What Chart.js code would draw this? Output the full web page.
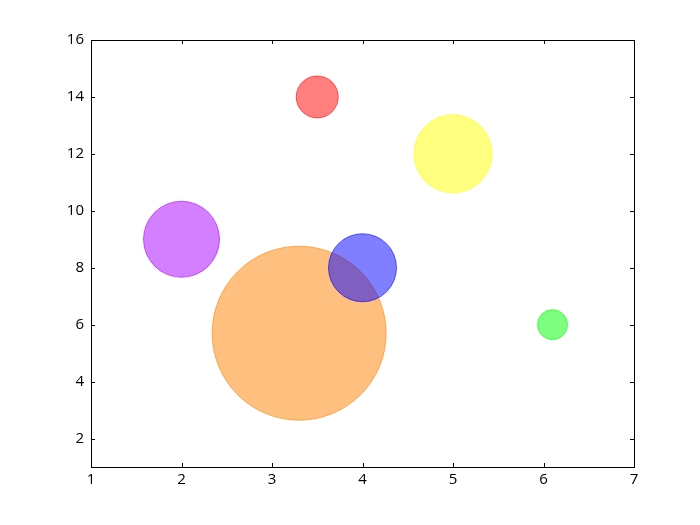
<!DOCTYPE html>
<html>
<head>
<meta charset="utf-8">
<script src="https://cdn.jsdelivr.net/npm/chart.js@4/dist/chart.umd.min.js"></script>
<style>
  html, body { margin: 0; padding: 0; background: #fff; }
  #wrap { width: 700px; height: 525px; }
</style>
</head>
<body>
<div id="wrap"><canvas id="bubbles" width="700" height="525"></canvas></div>
<script>
// bubble data
const xs = [3.5, 5, 2, 3.3, 4, 6.1];
const ys = [14, 12, 9, 5.7, 8, 6];
const radii = [21, 39, 38, 87, 34, 15]; // px
const fills = ['#ff0000', '#ffff00', '#aa00ff', '#ff8000', '#0000ff', '#00ff00'];

const xTicks = [1, 2, 3, 4, 5, 6, 7];
const yTicks = [2, 4, 6, 8, 10, 12, 14, 16];

function alpha(hex, a) {
  const n = parseInt(hex.slice(1), 16);
  return `rgba(${n >> 16}, ${(n >> 8) & 255}, ${n & 255}, ${a})`;
}

// frame + inward ticks on all four sides, matplotlib style
const frame = {
  id: 'frame',
  afterDraw(chart) {
    const { ctx, chartArea: a, scales } = chart;
    ctx.save();
    ctx.strokeStyle = '#000';
    ctx.lineWidth = 1;
    const len = 4;
    ctx.beginPath();
    xTicks.forEach(v => {
      const px = Math.round(scales.x.getPixelForValue(v)) + 0.5;
      ctx.moveTo(px, a.bottom); ctx.lineTo(px, a.bottom - len);
      ctx.moveTo(px, a.top); ctx.lineTo(px, a.top + len);
    });
    yTicks.forEach(v => {
      const py = Math.round(scales.y.getPixelForValue(v)) + 0.5;
      ctx.moveTo(a.left, py); ctx.lineTo(a.left + len, py);
      ctx.moveTo(a.right, py); ctx.lineTo(a.right - len, py);
    });
    ctx.stroke();
    ctx.strokeRect(a.left + 0.5, a.top + 0.5, a.right - a.left, a.bottom - a.top);
    ctx.restore();
  }
};

new Chart(document.getElementById('bubbles'), {
  type: 'bubble',
  data: {
    datasets: [{
      data: xs.map((x, i) => ({ x, y: ys[i], r: radii[i] })),
      backgroundColor: fills.map(c => alpha(c, 0.5)),
      borderColor: fills.map(c => alpha(c, 0.6)),
      borderWidth: 1
    }]
  },
  options: {
    responsive: false,
    animation: false,
    layout: { autoPadding: false, padding: { left: 0, right: 66, top: 40, bottom: 22 } },
    plugins: { legend: { display: false }, tooltip: { enabled: false } },
    scales: {
      x: {
        type: 'linear', min: 1, max: 7,
        afterBuildTicks: s => { s.ticks = xTicks.map(value => ({ value })); },
        afterFit: s => { s.height = 36; },
        grid: { display: false, drawTicks: false },
        border: { display: false },
        ticks: { color: '#000', padding: 4, font: { family: 'Open Sans', size: 15 } }
      },
      y: {
        type: 'linear', min: 1, max: 16,
        afterBuildTicks: s => { s.ticks = yTicks.map(value => ({ value })); },
        afterFit: s => { s.width = 91; },
        grid: { display: false, drawTicks: false },
        border: { display: false },
        ticks: { color: '#000', padding: 7, font: { family: 'Open Sans', size: 15 } }
      }
    }
  },
  plugins: [frame]
});
</script>
</body>
</html>
